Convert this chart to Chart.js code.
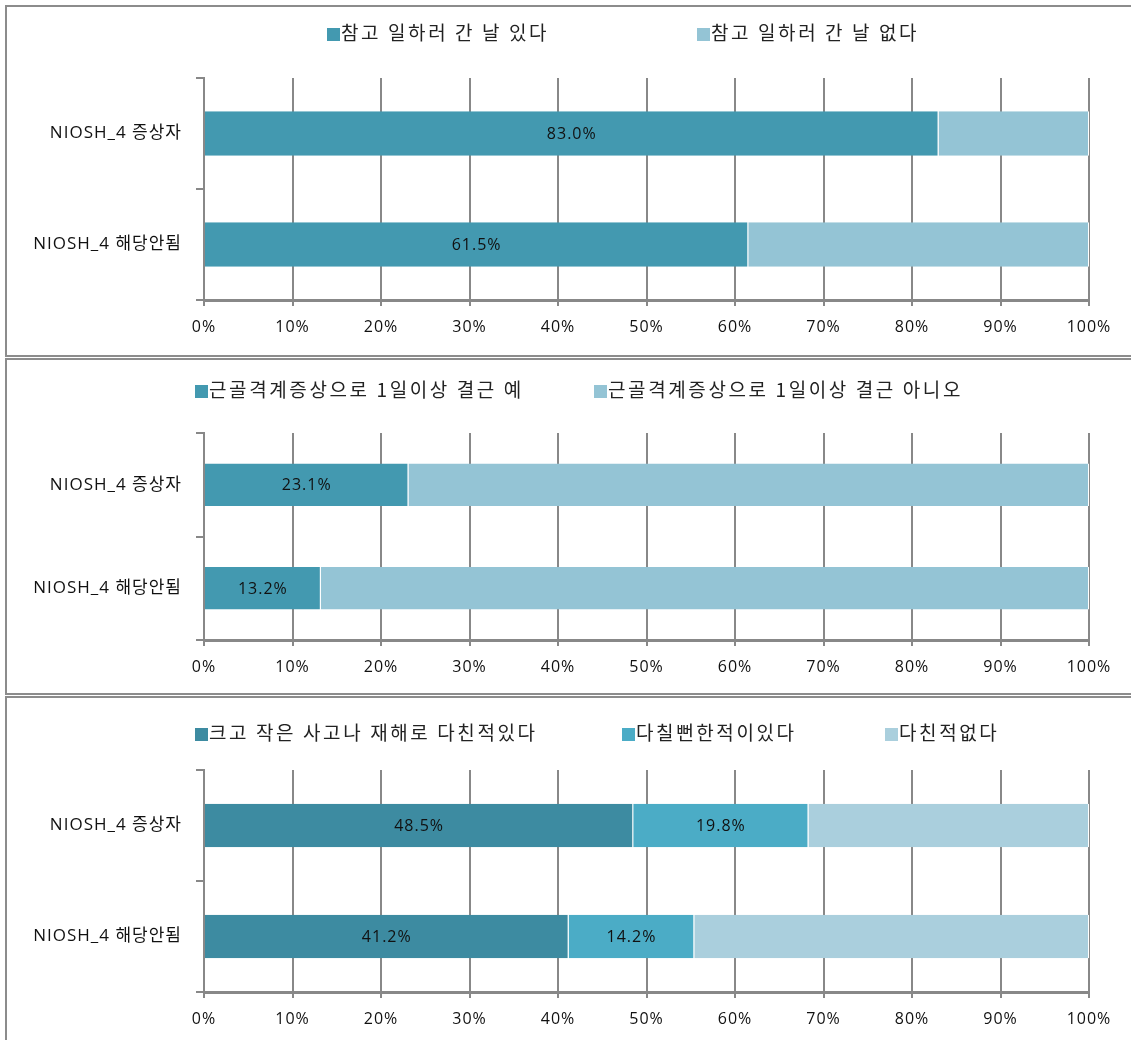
<!DOCTYPE html>
<html>
<head>
<meta charset="utf-8">
<script src="https://cdn.jsdelivr.net/npm/chart.js@4/dist/chart.umd.min.js"></script>
<style>
  body { margin: 0; background: #fff; width: 1131px; height: 1040px; overflow: hidden; position: relative;
         font-family: "Noto Sans CJK KR", "Noto Sans", sans-serif; }
  .panel { position: absolute; left: 5px; width: 1140px; border: 2px solid #8c8c8c; box-sizing: border-box; background: #fff; }
  .chart-box { position: absolute; }
  .legend-item { position: absolute; font-size: 19px; letter-spacing: 2.6px; color: #222; white-space: nowrap; line-height: 20px; }
  .legend-item span.box { display: inline-block; width: 13px; height: 13px; margin-right: 1px; vertical-align: -1px; }
</style>
</head>
<body>
<div class="panel" style="top:5px;height:352px"></div>
<div class="panel" style="top:358px;height:337px"></div>
<div class="panel" style="top:696px;height:360px"></div>

<div class="chart-box" style="left:7px;top:7px;width:1124px;height:348px"><canvas id="chart1"></canvas></div>
<div class="chart-box" style="left:7px;top:360px;width:1124px;height:333px"><canvas id="chart2"></canvas></div>
<div class="chart-box" style="left:7px;top:698px;width:1124px;height:342px"><canvas id="chart3"></canvas></div>

<script>
// categories and tick labels shared by all three charts
const groups = ['NIOSH_4 증상자', 'NIOSH_4 해당안됨']
const pctTicks = ['0%', '10%', '20%', '30%', '40%', '50%', '60%', '70%', '80%', '90%', '100%']

// chart 1 - went to work while sick
const workNames = ['참고 일하러 간 날 있다', '참고 일하러 간 날 없다']
const workYes = [83.0, 61.5]
const workNo = [17.0, 38.5]

// chart 2 - absence of 1+ day from musculoskeletal symptoms
const absentNames = ['근골격계증상으로 1일이상 결근 예', '근골격계증상으로 1일이상 결근 아니오']
const absentYes = [23.1, 13.2]
const absentNo = [76.9, 86.8]

// chart 3 - accidents / injuries
const injuryNames = ['크고 작은 사고나 재해로 다친적있다', '다칠뻔한적이있다', '다친적없다']
const injuryHurt = [48.5, 41.2]
const injuryNear = [19.8, 14.2]
const injuryNone = [31.7, 44.6]

const gridColor = '#888888'
const fontFamily = '"Open Sans", "Noto Sans CJK KR", sans-serif'

// a little extra letter spacing for all canvas text
const spacing = {
    id: 'spacing',
    beforeDraw(chart) { chart.ctx.letterSpacing = '1px' }
}

// write the value in the middle of bars whose dataset has showLabel set
const barLabels = {
    id: 'barLabels',
    afterDatasetsDraw(chart) {
        const ctx = chart.ctx
        ctx.save()
        ctx.font = '16px ' + fontFamily
        ctx.fillStyle = '#111'
        ctx.textAlign = 'center'
        ctx.textBaseline = 'middle'
        chart.data.datasets.forEach((ds, i) => {
            if (!ds.showLabel) return
            chart.getDatasetMeta(i).data.forEach((bar, j) => {
                let cx = (bar.x + bar.base) / 2
                ctx.fillText(ds.data[j].toFixed(1) + '%', cx, bar.y + 1)
            })
        })
        ctx.restore()
    }
}

function makeChart(id, datasets, opts) {
    let ctx = document.getElementById(id).getContext('2d')
    return new Chart(ctx, {
        type: 'bar',
        data: {
            labels: groups,
            datasets: datasets.map(d => ({
                label: d.label,
                data: d.data,
                backgroundColor: d.color,
                borderColor: '#ffffff',
                borderWidth: { left: 0, right: 1, top: 0, bottom: 0 },
                borderSkipped: false,
                categoryPercentage: 1,
                barPercentage: opts.barPct,
                showLabel: d.showLabel
            }))
        },
        options: {
            indexAxis: 'y',
            responsive: true,
            maintainAspectRatio: false,
            animation: false,
            layout: { padding: { top: opts.top, right: 42, left: 0, bottom: 0 } },
            plugins: { legend: { display: false }, tooltip: { enabled: false } },
            scales: {
                x: {
                    stacked: true,
                    min: 0,
                    max: 100,
                    afterBuildTicks: function (scale) {
                        scale.ticks = pctTicks.map((t, i) => ({ value: i * 10 }))
                    },
                    afterFit: function (scale) { scale.height = opts.xHeight },
                    ticks: {
                        callback: (v, i) => pctTicks[i],
                        color: '#111',
                        font: { family: fontFamily, size: 16 },
                        padding: 12,
                        maxRotation: 0
                    },
                    grid: { color: gridColor, lineWidth: 2, tickLength: 6 },
                    border: { color: gridColor, width: 3 }
                },
                y: {
                    stacked: true,
                    afterFit: function (scale) { scale.width = 197 },
                    ticks: {
                        color: '#111',
                        font: { family: fontFamily, size: 17 },
                        padding: 14
                    },
                    grid: { offset: true, drawOnChartArea: false, color: gridColor, lineWidth: 2, tickLength: 8 },
                    border: { color: gridColor, width: 2 }
                }
            }
        },
        plugins: [spacing, barLabels]
    })
}

function makeLegend(names, colors, lefts, top) {
    names.forEach((name, i) => {
        let el = document.createElement('div')
        el.className = 'legend-item'
        el.style.left = lefts[i] + 'px'
        el.style.top = top + 'px'
        el.innerHTML = `<span class="box" style="background:${colors[i]}"></span>${name}`
        document.body.appendChild(el)
    })
}

const c1 = ['#4399b0', '#94c4d5']
const c3 = ['#3d8ba1', '#4bacc6', '#aacfdd']

makeChart('chart1', [
    { label: workNames[0], data: workYes, color: c1[0], showLabel: true },
    { label: workNames[1], data: workNo, color: c1[1] }
], { top: 71, xHeight: 55, barPct: 0.4 })

makeChart('chart2', [
    { label: absentNames[0], data: absentYes, color: c1[0], showLabel: true },
    { label: absentNames[1], data: absentNo, color: c1[1] }
], { top: 73, xHeight: 53, barPct: 0.41 })

makeChart('chart3', [
    { label: injuryNames[0], data: injuryHurt, color: c3[0], showLabel: true },
    { label: injuryNames[1], data: injuryNear, color: c3[1], showLabel: true },
    { label: injuryNames[2], data: injuryNone, color: c3[2] }
], { top: 72, xHeight: 48, barPct: 0.39 })

makeLegend(workNames, c1, [327, 697], 22)
makeLegend(absentNames, c1, [195, 594], 379)
makeLegend(injuryNames, c3, [195, 622, 885], 722)
</script>
</body>
</html>
